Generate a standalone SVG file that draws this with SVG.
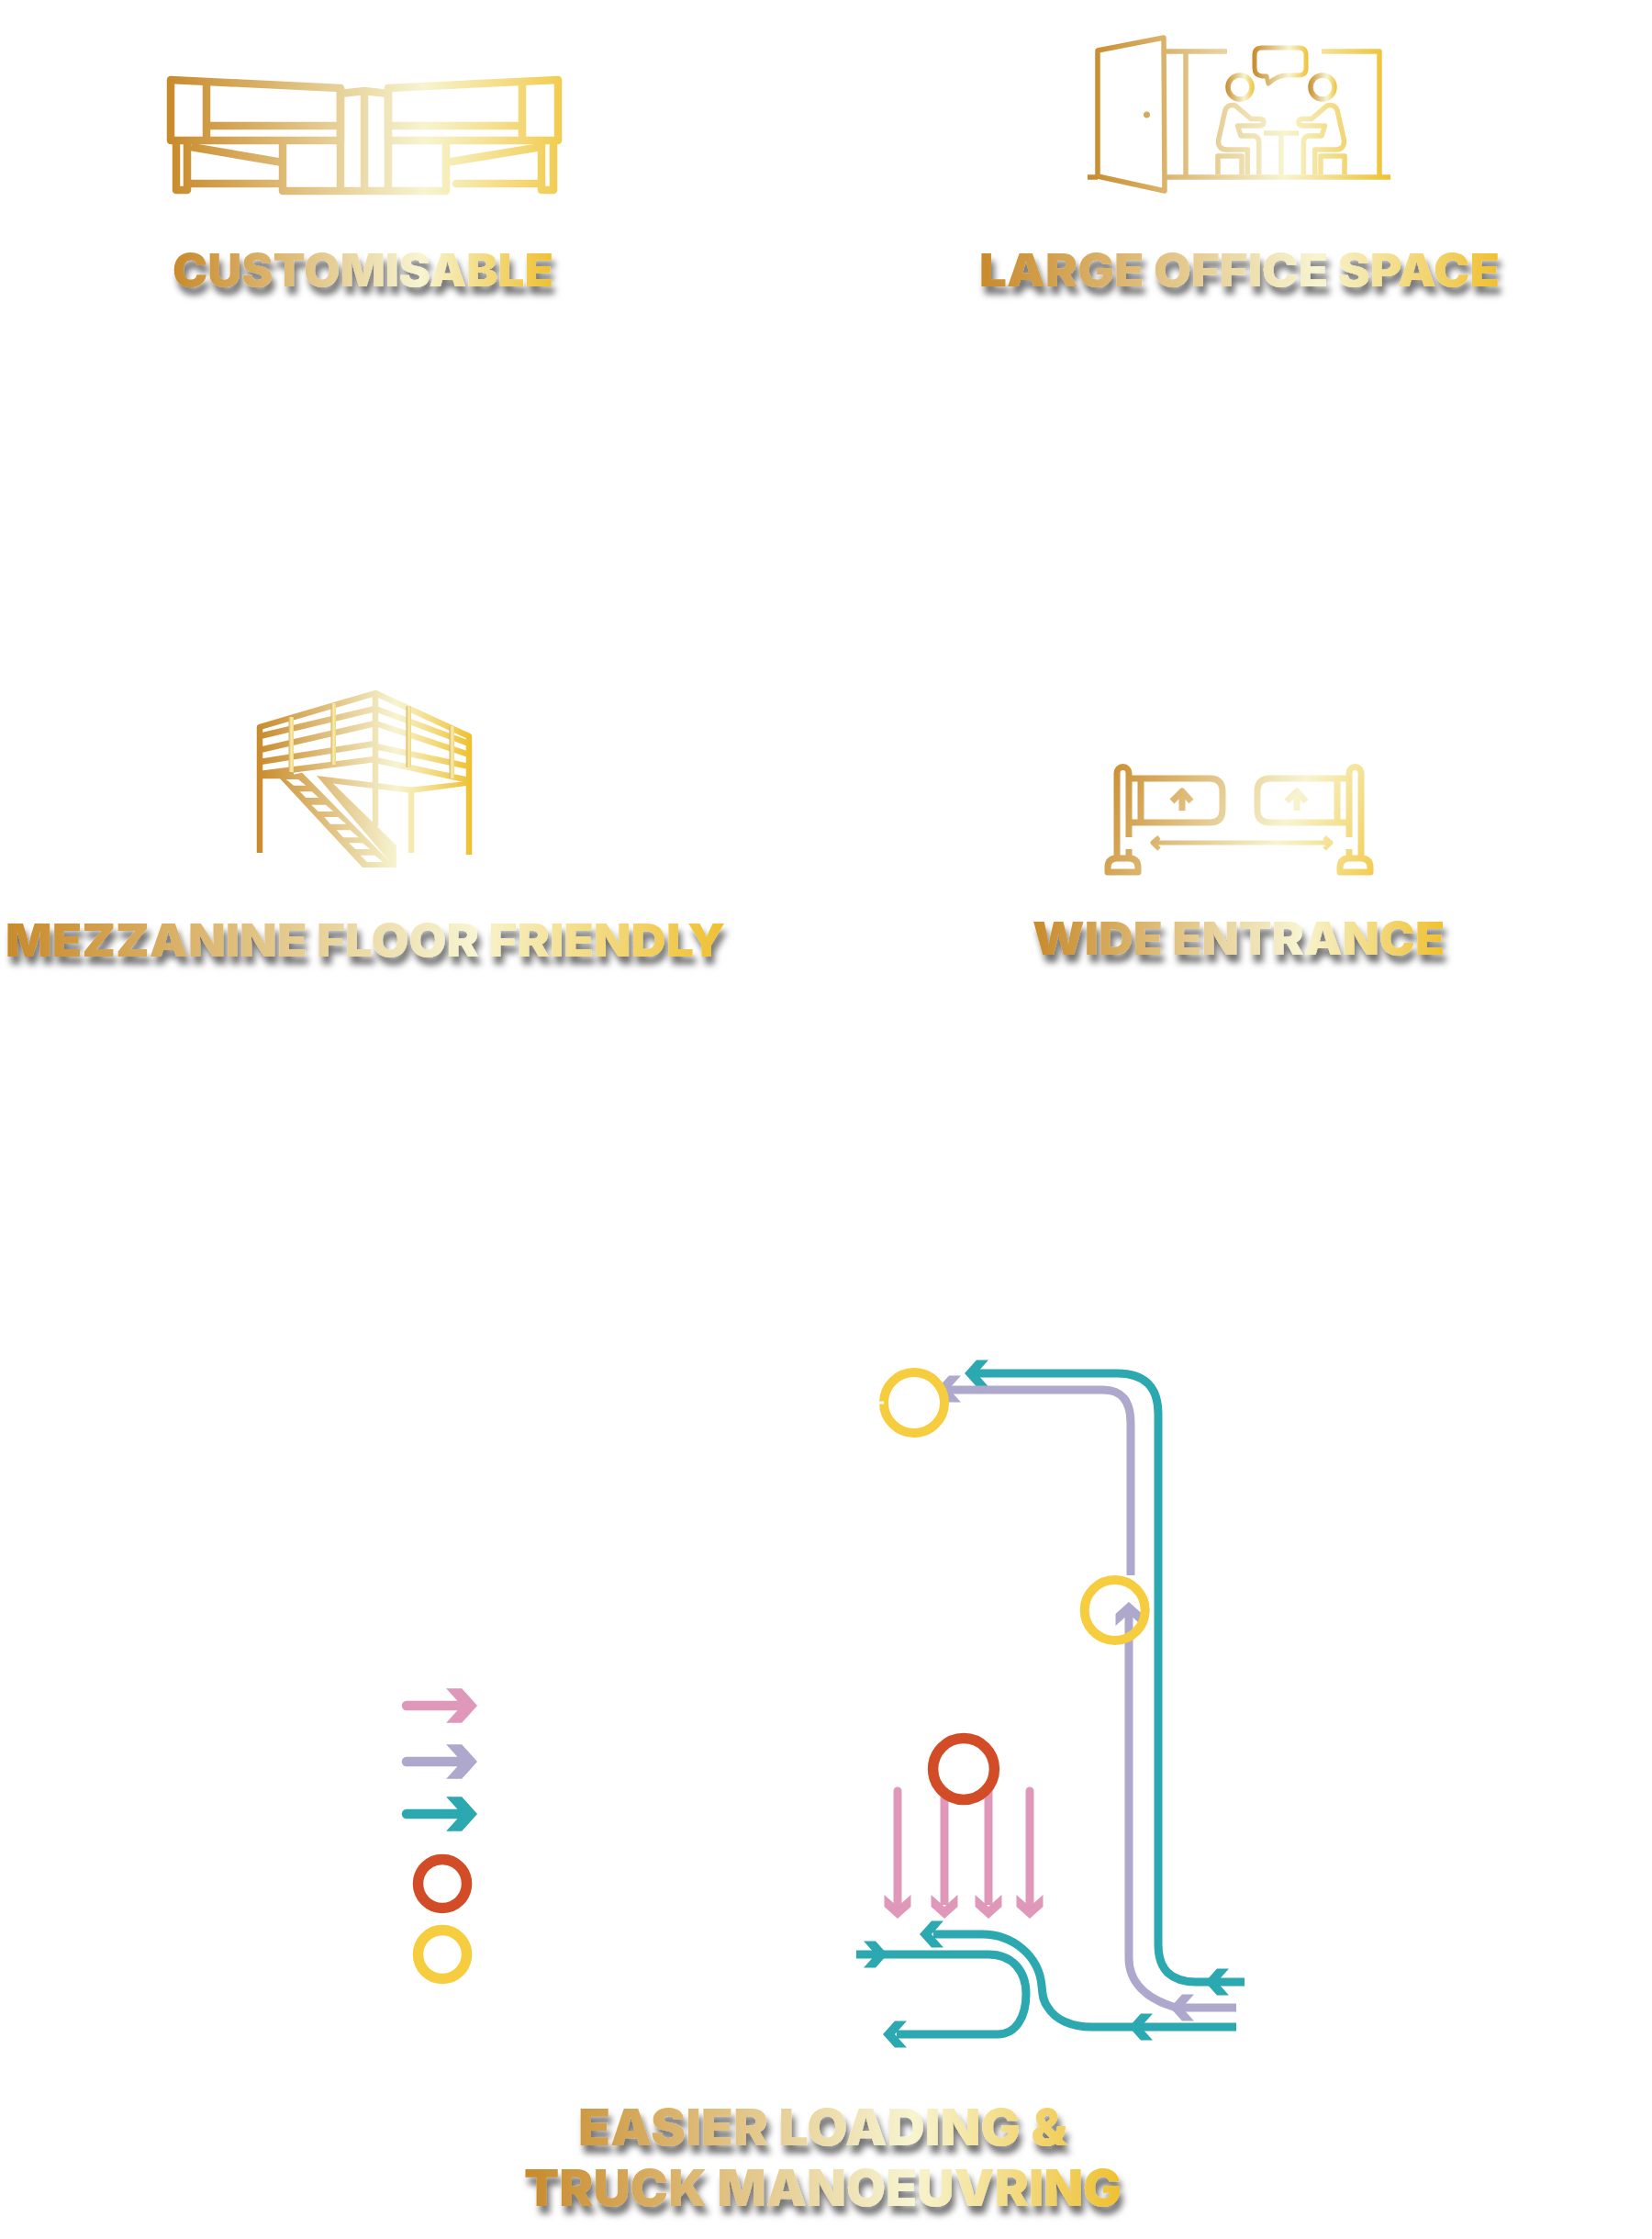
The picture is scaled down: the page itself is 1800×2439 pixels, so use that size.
<svg xmlns="http://www.w3.org/2000/svg" width="1800" height="2439" viewBox="0 0 1800 2439">
<style>
.ic{fill:none;stroke-linejoin:round;stroke-linecap:butt}
.lb{font-family:"Inter","Liberation Sans",sans-serif;font-weight:900;filter:url(#sh)}
.route{fill:none;stroke-width:9}
.teal{stroke:#2ca8b0}.lil{stroke:#aea8cc}.pink{stroke:#e098ba}
.ring{fill:none}
</style>
<defs>
<filter id="sh" x="-5%" y="-30%" width="110%" height="180%"><feDropShadow dx="3.5" dy="8.5" stdDeviation="3.6" flood-color="#000" flood-opacity=".55"/></filter>
<path id="hd" d="M0,0 L-13,14.5 H-26 L-13,0 L-26,-14.5 H-13 Z"/>
<linearGradient id="st0"><stop offset="0" stop-color="#c88a2b"/><stop offset=".65" stop-color="#f7f4d0"/><stop offset="1" stop-color="#f2cc50"/></linearGradient>
<linearGradient id="st1"><stop offset="0" stop-color="#c88a2b"/><stop offset=".65" stop-color="#f7f4d0"/><stop offset="1" stop-color="#efc030"/></linearGradient>
<linearGradient id="gSofa" href="#st0" gradientUnits="userSpaceOnUse" x1="182" y1="0" x2="612" y2="0"/>
<linearGradient id="gOff" href="#st1" gradientUnits="userSpaceOnUse" x1="1185" y1="0" x2="1515" y2="0"/>
<linearGradient id="gBub" href="#st1" gradientUnits="userSpaceOnUse" x1="1365" y1="0" x2="1426" y2="0"/>
<linearGradient id="gH1" href="#st1" gradientUnits="userSpaceOnUse" x1="1335" y1="0" x2="1367" y2="0"/>
<linearGradient id="gH2" href="#st1" gradientUnits="userSpaceOnUse" x1="1425" y1="0" x2="1457" y2="0"/>
<linearGradient id="gMez" href="#st1" gradientUnits="userSpaceOnUse" x1="279" y1="0" x2="514" y2="0"/>
<linearGradient id="gPost"><stop offset="0" stop-color="#dcb060"/><stop offset=".5" stop-color="#f6eeb0"/><stop offset="1" stop-color="#f0d880"/></linearGradient>
<linearGradient id="gWide" href="#st0" gradientUnits="userSpaceOnUse" x1="1204" y1="825" x2="1498" y2="955"/>
<linearGradient id="t1" href="#st1" gradientUnits="userSpaceOnUse" x1="188" y1="0" x2="603" y2="0"/>
<linearGradient id="t2" href="#st1" gradientUnits="userSpaceOnUse" x1="1067" y1="0" x2="1634" y2="0"/>
<linearGradient id="t3" href="#st1" gradientUnits="userSpaceOnUse" x1="6" y1="0" x2="790" y2="0"/>
<linearGradient id="t4" href="#st1" gradientUnits="userSpaceOnUse" x1="1125" y1="0" x2="1574" y2="0"/>
<linearGradient id="t5" href="#st1" gradientUnits="userSpaceOnUse" x1="571" y1="0" x2="1222" y2="0"/>
</defs>
<rect width="1800" height="2439" fill="#fff"/>

<g id="customisable">
<g class="ic" stroke="url(#gSofa)" stroke-width="8.5">
<path d="M186,87 L371,96 V153 H186 Z"/>
<path d="M608,87 L423,96 V153 H608 Z"/>
<path d="M225,89 V153 M569,89 V153 M225,137 H371 M423,137 H569"/>
<path d="M371,102 L397,99 L423,102 M397,99 V208 M371,96 V208 M423,96 V208"/>
<path d="M308,153 V208 H486 V153"/>
<path d="M192,155 V207 H204 V155 M590,155 V207 H603 V155"/>
<path d="M208,160 L308,177 M486,177 L590,160 M204,200 H308"/>
<path d="M497,200 H590" stroke-linecap="round"/>
</g>
<text class="lb" x="188" y="312" font-size="49" fill="url(#t1)" textLength="415" lengthAdjust="spacingAndGlyphs">CUSTOMISABLE</text>
</g>

<g id="large-office-space">
<g class="ic" stroke="url(#gOff)" stroke-width="5.5">
<path d="M1196,55 L1268,41 L1269,208 L1196,192 Z"/>
<path d="M1185,193 H1196 M1270,193 H1515 M1270,56 H1337 M1440,56 H1503 V193 M1292,56 V193"/>
<path d="M1327,190 V170 H1353 V190 M1439,190 V170 H1465 V190"/>
<path d="M1377,145 H1415 M1396,145 V190"/>
<path d="M1359.3,190 V163 H1337 Q1327,163 1327.5,153 L1335,120 Q1338,113 1346,115 L1363,129.5 H1372 Q1377,129.5 1377,133 Q1377,137 1372,137 H1348.5 L1352,148 H1365 Q1371.7,148 1371.7,155 V190"/>
<path d="M1432.7,190 V163 H1455 Q1465,163 1464.5,153 L1457,120 Q1454,113 1446,115 L1429,129.5 H1420 Q1415,129.5 1415,133 Q1415,137 1420,137 H1443.5 L1440,148 H1427 Q1420.3,148 1420.3,155 V190"/>
</g>
<circle cx="1249.5" cy="125" r="3.5" fill="url(#gOff)"/>
<circle cx="1351" cy="95" r="13" class="ic" stroke="url(#gH1)" stroke-width="5.5"/>
<circle cx="1441" cy="95" r="13" class="ic" stroke="url(#gH2)" stroke-width="5.5"/>
<path class="ic" stroke="url(#gBub)" stroke-width="5" d="M1375,52 H1415 Q1423,52 1423,60 V74 Q1423,82 1415,82 H1402 Q1392,82 1382,91 L1380,83 H1375 Q1367,82 1367,74 V60 Q1367,52 1375,52 Z"/>
<text class="lb" x="1067" y="312" font-size="49" fill="url(#t2)" textLength="567" lengthAdjust="spacingAndGlyphs">LARGE OFFICE SPACE</text>
</g>

<g id="mezzanine-floor-friendly">
<g class="ic" stroke="url(#gMez)" stroke-width="6.5">
<path d="M283,929 V792 L409,755 L511,802 V931"/>
<path d="M283,802 L409,772 M283,817 L409,788 M283,830 L409,810 M283,843 L409,827"/>
<path d="M409,772 L511,810 M409,788 L511,822 M409,813 L511,835 M409,828 L511,850"/>
<path d="M409,755 V900 M448,862 V929 M280,845 H320"/>
</g>
<path fill="url(#gMez)" fill-rule="evenodd" d="M304,847 L329.3,841.7 L425,939 V945 H395 Z
M311.7,849 H325 L333.3,855.7 H320 Z M326.7,862.3 H340 L347.3,869 H333.3 Z M339.3,876.7 H355 L363.3,884 H346.7 Z M353.3,890 H368.3 L377.3,897.7 H360 Z M366.7,904.3 H381.7 L390.7,912.3 H374 Z M380,918.3 H395 L403.3,925 H387.3 Z M392.7,931.7 H408.3 L417.3,939 H400 Z"/>
<path fill="url(#gMez)" d="M345,845 L448,857.5 L508,851 V856 L448,864 L363,853.5 L432,921 V945 H425 V939 Z"/>
<rect x="314.5" y="781" width="5.5" height="60" rx="1" fill="url(#gPost)"/>
<rect x="360.5" y="766" width="5.5" height="67" rx="1" fill="url(#gPost)"/>
<rect x="442.5" y="769" width="5.5" height="67" rx="1" fill="url(#gPost)"/>
<rect x="489.5" y="791" width="5.5" height="57" rx="1" fill="url(#gPost)"/>
<text class="lb" x="6" y="1042" font-size="50" fill="url(#t3)" textLength="784" lengthAdjust="spacingAndGlyphs">MEZZANINE FLOOR FRIENDLY</text>
</g>

<g id="wide-entrance">
<g class="ic" stroke="url(#gWide)" stroke-width="7" stroke-linecap="round">
<path d="M1230,912 V842 a6.5,6.5 0 0 0 -13,0 V935 M1230,925 V935"/>
<path d="M1207,950 V945 Q1207,935 1217,935 H1230 Q1240,935 1240,945 V950 Z"/>
<path d="M1230,848 H1318 Q1332,848 1332,862 V882 Q1332,896 1318,896 H1230 M1243,848 V896"/>
<path d="M1277,873 L1288,862 L1298,873 M1288,862 V883"/>
<path d="M1470,912 V842 a6.5,6.5 0 0 1 13,0 V935 M1470,925 V935"/>
<path d="M1460,950 V945 Q1460,935 1470,935 H1483 Q1493,935 1493,945 V950 Z"/>
<path d="M1470,848 H1384 Q1370,848 1370,862 V882 Q1370,896 1384,896 H1470 M1457,848 V896"/>
<path d="M1402,873 L1413,862 L1423,873 M1413,862 V883"/>
<path stroke-width="5" stroke-linecap="butt" d="M1256,918 H1450 M1263,912 L1256,918 L1263,925 M1443,912 L1450,918 L1443,925"/>
</g>
<text class="lb" x="1125" y="1040" font-size="50" fill="url(#t4)" textLength="449" lengthAdjust="spacingAndGlyphs">WIDE ENTRANCE</text>
</g>

<g id="connectors">
<path class="route teal" d="M1356,2159 H1303 Q1262,2159 1262,2118 V1540 Q1262,1496 1217,1496 H1062"/>
<use href="#hd" fill="#2ca8b0" transform="translate(1051,1496) rotate(180)"/>
<use href="#hd" fill="#2ca8b0" transform="translate(1313,2159) rotate(180)"/>
<path class="route lil" d="M1347,2187 H1282 C1250,2178 1230,2160 1230,2133 V1752"/>
<use href="#hd" fill="#aea8cc" transform="translate(1230,1745) rotate(-90)"/>
<use href="#hd" fill="#aea8cc" transform="translate(1275,2187) rotate(180)"/>
<path class="route lil" d="M1232,1716 V1550 Q1232,1514 1202,1514 H1032"/>
<use href="#hd" fill="#aea8cc" transform="translate(1021,1513) rotate(180)"/>
<path class="route teal" d="M1347,2208 H1190 C1167,2208 1150,2200 1142,2187 C1135,2178 1136,2170 1135,2163 C1132,2130 1103,2107 1070,2107 H1017"/>
<use href="#hd" fill="#2ca8b0" transform="translate(1002,2107) rotate(180)"/>
<use href="#hd" fill="#2ca8b0" transform="translate(1230,2208) rotate(180)"/>
<path class="route teal" d="M933,2129 H1077 C1103,2129 1118,2147 1118,2172 C1118,2197 1107,2216 1087,2216 H977"/>
<use href="#hd" fill="#2ca8b0" transform="translate(967,2129)"/>
<use href="#hd" fill="#2ca8b0" transform="translate(962,2216) rotate(180)"/>
<path class="route pink" stroke-linecap="round" d="M978,1951 V2075 M1122,1951 V2075"/>
<path class="route pink" d="M1029,1950 V2075 M1077,1950 V2075"/>
<use href="#hd" fill="#e098ba" transform="translate(978,2090) rotate(90)"/>
<use href="#hd" fill="#e098ba" transform="translate(1029,2090) rotate(90)"/>
<use href="#hd" fill="#e098ba" transform="translate(1077,2090) rotate(90)"/>
<use href="#hd" fill="#e098ba" transform="translate(1122,2090) rotate(90)"/>
</g>

<g id="route-rings">
<circle class="ring" cx="996" cy="1528" r="33" stroke="#f6cd3f" stroke-width="10"/>
<rect x="958" y="1526.5" width="5" height="3" fill="#fff"/>
<circle class="ring" cx="1214.7" cy="1754" r="33" stroke="#f6cd3f" stroke-width="10"/>
<circle class="ring" cx="1050" cy="1927" r="33.4" stroke="#d24c27" stroke-width="11.5"/>
</g>

<g id="legend">
<path d="M443,1858 H505" stroke="#e098ba" stroke-width="10.5" stroke-linecap="round"/>
<use href="#hd" fill="#e098ba" transform="translate(520,1858) scale(1.3)"/>
<path d="M443,1919 H505" stroke="#aea8cc" stroke-width="10.5" stroke-linecap="round"/>
<use href="#hd" fill="#aea8cc" transform="translate(520,1919) scale(1.3)"/>
<path d="M443,1976 H505" stroke="#2ca8b0" stroke-width="10.5" stroke-linecap="round"/>
<use href="#hd" fill="#2ca8b0" transform="translate(520,1976) scale(1.3)"/>
<circle class="ring" cx="482" cy="2052" r="26.5" stroke="#d24c27" stroke-width="11.5"/>
<circle class="ring" cx="482" cy="2129" r="26.5" stroke="#f6cd3f" stroke-width="11.5"/>
</g>

<g id="easier-loading">
<text class="lb" x="630" y="2337" font-size="55" fill="url(#t5)" textLength="533" lengthAdjust="spacingAndGlyphs">EASIER LOADING &amp;</text>
<text class="lb" x="571" y="2403" font-size="55" fill="url(#t5)" textLength="651" lengthAdjust="spacingAndGlyphs">TRUCK MANOEUVRING</text>
</g>
</svg>
